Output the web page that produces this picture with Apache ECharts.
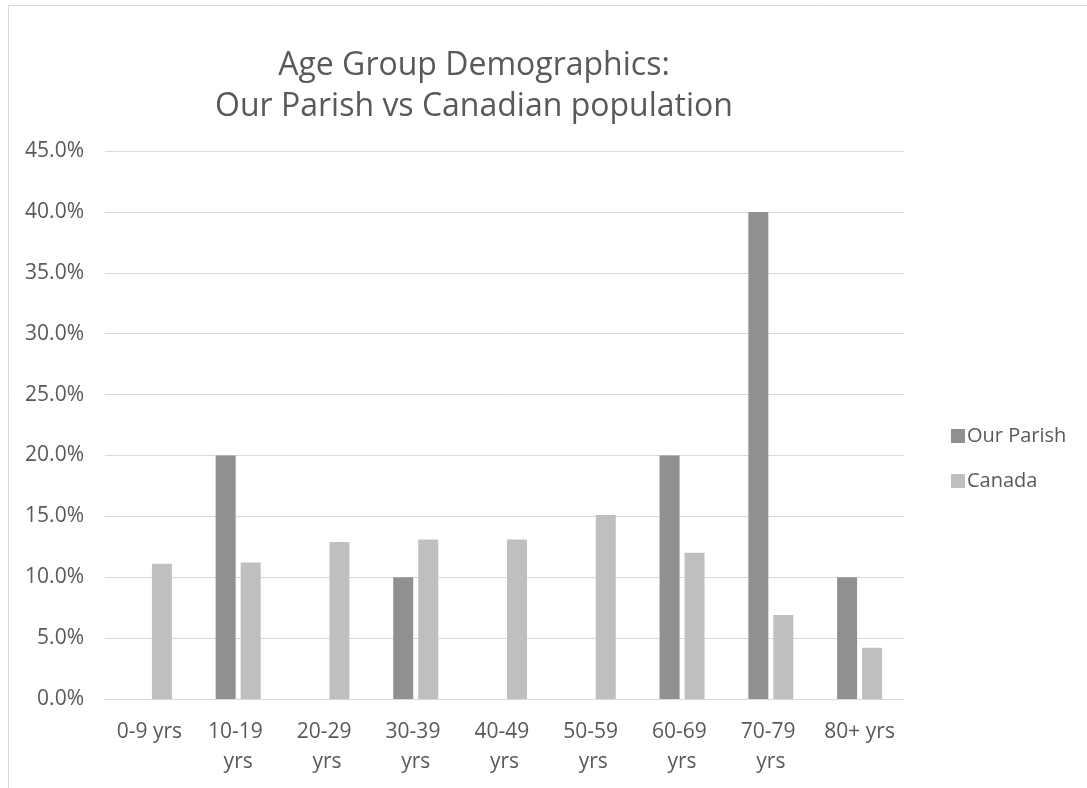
<!DOCTYPE html>
<html>
<head>
<meta charset="utf-8">
<script src="https://cdn.jsdelivr.net/npm/echarts@6/dist/echarts.min.js"></script>
<style>
html,body{margin:0;padding:0;background:#fff;}
#chart{width:1087px;height:788px;}
</style>
</head>
<body>
<div id="chart"></div>
<script>
const categories = ['0-9 yrs','10-19 yrs','20-29 yrs','30-39 yrs','40-49 yrs','50-59 yrs','60-69 yrs','70-79 yrs','80+ yrs'];
const ourParish = [0, 20, 0, 10, 0, 0, 20, 40, 10];
const canada = [11.1, 11.2, 12.9, 13.1, 13.1, 15.1, 12.0, 6.9, 4.2];
const seriesNames = ['Our Parish', 'Canada'];
const titleLines = ['Age Group Demographics:', 'Our Parish vs Canadian population'];

const FONT = 'Open Sans';
const TXT = '#595959';
const chart = echarts.init(document.getElementById('chart'));
chart.setOption({
  animation: false,
  backgroundColor: '#fff',
  graphic: [{
    type: 'rect', silent: true,
    shape: {x: 8.5, y: 5.5, width: 1200, height: 900},
    style: {fill: 'none', stroke: '#d9d9d9', lineWidth: 1}
  }],
  title: {
    text: titleLines.join('\n'),
    left: 469, top: 40, textAlign: 'center',
    textStyle: {fontFamily: FONT, fontWeight: 'normal', fontSize: 32, color: TXT, lineHeight: 41}
  },
  legend: {
    orient: 'vertical', left: 946, top: 421,
    itemWidth: 14, itemHeight: 14, itemGap: 25,
    icon: 'rect',
    textStyle: {fontFamily: FONT, fontSize: 20, color: TXT, padding: [0,0,0,-3]},
    data: seriesNames
  },
  grid: {left: 105, right: 183, top: 151, bottom: 89, containLabel: false},
  xAxis: {
    type: 'category', data: categories,
    axisLine: {lineStyle: {color: '#d9d9d9', width: 1}},
    axisTick: {show: false},
    axisLabel: {fontFamily: FONT, fontSize: 21, color: TXT, margin: 18, lineHeight: 30,
      width: 82, overflow: 'break', interval: 0}
  },
  yAxis: {
    type: 'value', min: 0, max: 45, interval: 5,
    axisLine: {show: false}, axisTick: {show: false},
    splitLine: {lineStyle: {color: '#d9d9d9', width: 1}},
    axisLabel: {fontFamily: FONT, fontSize: 21, color: TXT, margin: 21,
      formatter: v => v.toFixed(1) + '%'}
  },
  series: [
    {name: seriesNames[0], type: 'bar', data: ourParish, barWidth: 20, barGap: '25%',
      itemStyle: {color: '#909090'}},
    {name: seriesNames[1], type: 'bar', data: canada, barWidth: 20, barGap: '25%',
      itemStyle: {color: '#bfbfbf'}}
  ]
});
</script>
</body>
</html>
